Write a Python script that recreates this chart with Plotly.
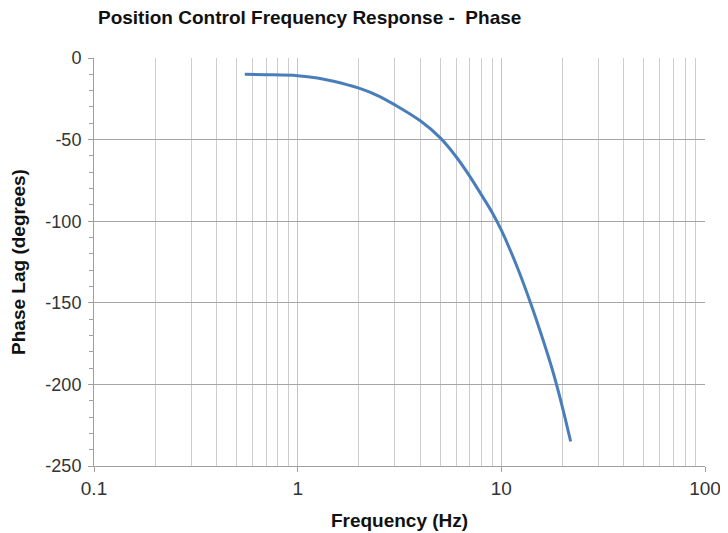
import plotly.graph_objects as go

freq_hz = [0.55, 0.7, 1, 1.25, 1.5, 2, 2.5, 3, 4, 5, 6, 7, 8, 9, 10, 12, 14, 16, 18, 20, 21.9]
phase_deg = [-10.0, -10.2, -10.8, -12.2, -14.2, -18.5, -23.3, -28.7, -38.5, -48.8, -60.5,
             -72.5, -84.0, -94.5, -105.5, -128.5, -151.0, -172.5, -193.0, -214.5, -235.0]

x_major = [0.1, 1, 10, 100]
x_major_text = ["0.1", "1", "10", "100"]
x_minor = [m * d for d in (0.1, 1, 10) for m in range(2, 10)]

y_major = [0, -50, -100, -150, -200, -250]
y_major_text = ["0", "-50", "-100", "-150", "-200", "-250"]

W, H = 720, 525  # page body adds an 8px offset; the rest is clipped by the window

fig = go.Figure()
fig.add_trace(go.Scatter(
    x=freq_hz, y=phase_deg, mode="lines",
    line=dict(color="#4A7EBB", width=3, shape="spline", smoothing=1.0),
    showlegend=False, hoverinfo="skip",
))

fig.update_layout(
    width=W, height=H,
    margin=dict(l=86, r=23, t=50, b=67),
    paper_bgcolor="white", plot_bgcolor="white",
    font=dict(family="Liberation Sans, Arial, sans-serif", color="#222222"),
    title=dict(text="<b>Position Control Frequency Response -  Phase</b>",
               x=90 / W, xanchor="left", y=1 - 9 / H, yanchor="middle",
               font=dict(size=19, color="#111111")),
)

fig.update_xaxes(
    type="log", range=[-1, 2], automargin=False,
    tickvals=x_major, ticktext=x_major_text, ticklabeloverflow="allow",
    tickfont=dict(size=19, color="#333333"),
    showgrid=True, gridcolor="#c4c4c4", gridwidth=1,
    minor=dict(tickvals=x_minor, showgrid=True, gridcolor="#cdcdcd", gridwidth=1, ticks=""),
    ticks="outside", ticklen=5, tickcolor="#a0a0a0",
    showline=True, linecolor="#a0a0a0", linewidth=1,
    zeroline=False,
    title=dict(text="<b>Frequency (Hz)</b>", font=dict(size=19, color="#111111"), standoff=15),
)

fig.update_yaxes(
    range=[-250, 0], automargin=False,
    tickvals=y_major, ticktext=y_major_text, ticklabelstandoff=3,
    tickfont=dict(size=18, color="#333333"),
    showgrid=True, gridcolor="#a6a6a6", gridwidth=1,
    minor=dict(dtick=10, ticks="outside", ticklen=4, tickcolor="#a0a0a0", showgrid=False),
    ticks="outside", ticklen=5, tickcolor="#a0a0a0",
    showline=True, linecolor="#a0a0a0", linewidth=1,
    zeroline=False,
    title=dict(text="<b>Phase Lag (degrees)</b>", font=dict(size=19, color="#111111"), standoff=14),
)

fig.write_html("out.html")
